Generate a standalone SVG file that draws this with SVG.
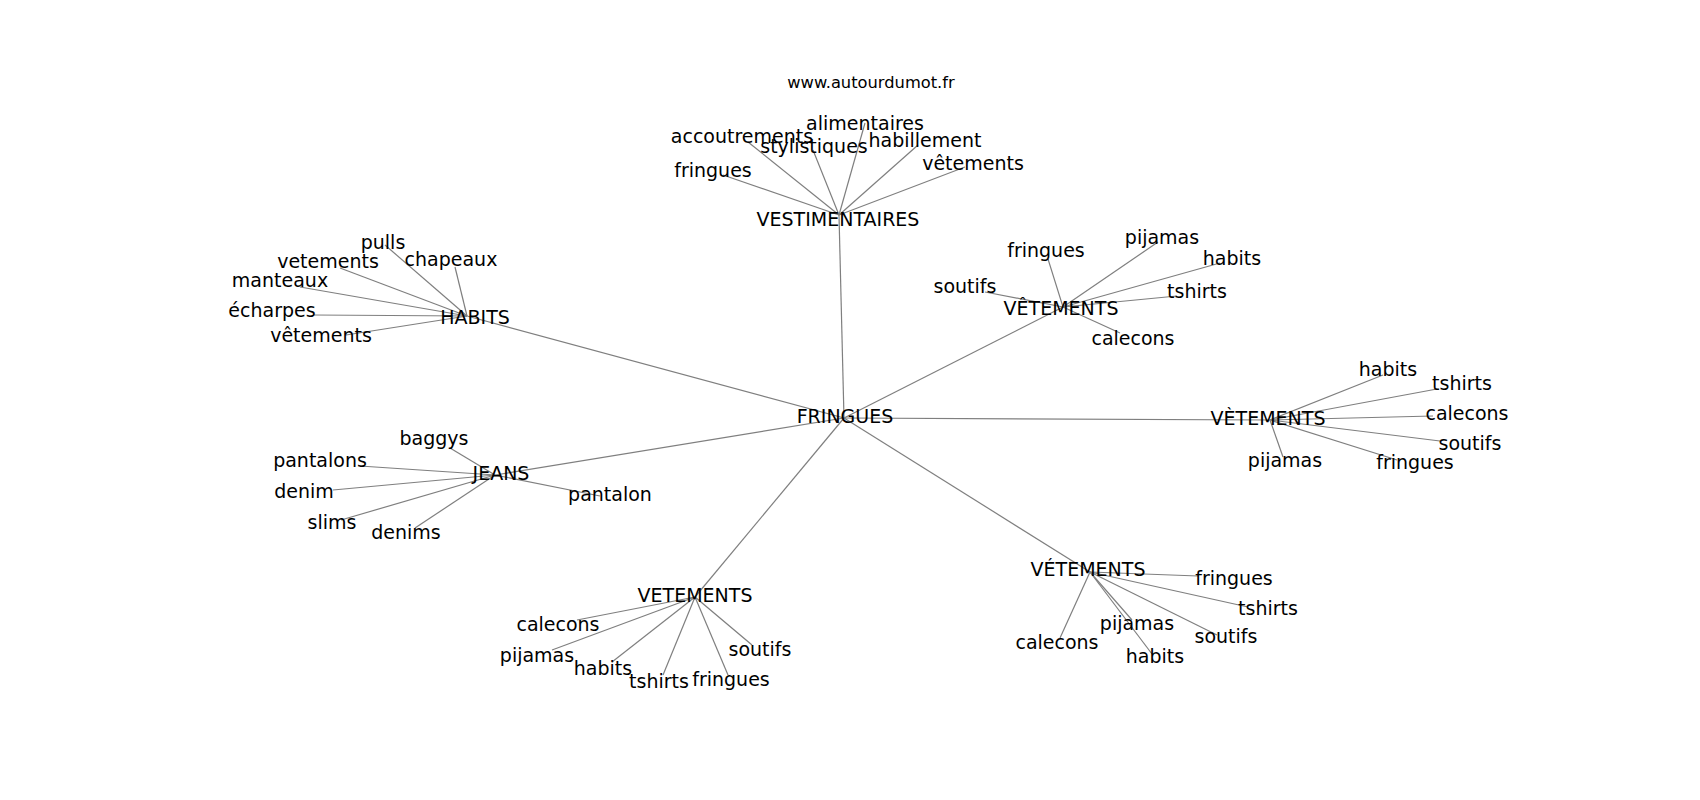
<svg xmlns="http://www.w3.org/2000/svg" width="1700" height="800" viewBox="0 0 1700 800">
<style>
text{font-family:"DejaVu Sans","Liberation Sans",sans-serif;font-size:19px;fill:#000;text-anchor:middle}
.title{font-size:16.3px}
#edges line{stroke:#7f7f7f;stroke-width:1.2;fill:none}
</style>
<rect width="1700" height="800" fill="#fff"/>
<g id="edges">
<line x1="844" y1="418" x2="839" y2="215"/>
<line x1="844" y1="418" x2="467" y2="316"/>
<line x1="844" y1="418" x2="1063" y2="307"/>
<line x1="844" y1="418" x2="1270" y2="420"/>
<line x1="844" y1="418" x2="495" y2="475"/>
<line x1="844" y1="418" x2="695" y2="597"/>
<line x1="844" y1="418" x2="1090" y2="572"/>
<line x1="839" y1="215" x2="748" y2="142"/>
<line x1="839" y1="215" x2="865" y2="123"/>
<line x1="839" y1="215" x2="813" y2="150"/>
<line x1="839" y1="215" x2="918" y2="145"/>
<line x1="839" y1="215" x2="965" y2="167"/>
<line x1="839" y1="215" x2="723" y2="175"/>
<line x1="467" y1="316" x2="385" y2="245"/>
<line x1="467" y1="316" x2="455" y2="267"/>
<line x1="467" y1="316" x2="340" y2="268"/>
<line x1="467" y1="316" x2="300" y2="287"/>
<line x1="467" y1="316" x2="313" y2="315"/>
<line x1="467" y1="316" x2="346" y2="335"/>
<line x1="1063" y1="307" x2="1048" y2="259"/>
<line x1="1063" y1="307" x2="985" y2="292"/>
<line x1="1063" y1="307" x2="1158" y2="242"/>
<line x1="1063" y1="307" x2="1220" y2="263"/>
<line x1="1063" y1="307" x2="1177" y2="296"/>
<line x1="1063" y1="307" x2="1120" y2="333"/>
<line x1="1270" y1="420" x2="1383" y2="375"/>
<line x1="1270" y1="420" x2="1437" y2="389"/>
<line x1="1270" y1="420" x2="1433" y2="416"/>
<line x1="1270" y1="420" x2="1440" y2="441"/>
<line x1="1270" y1="420" x2="1397" y2="460"/>
<line x1="1270" y1="420" x2="1283" y2="457"/>
<line x1="495" y1="475" x2="450" y2="448"/>
<line x1="495" y1="475" x2="360" y2="466"/>
<line x1="495" y1="475" x2="333" y2="490"/>
<line x1="495" y1="475" x2="600" y2="496"/>
<line x1="495" y1="475" x2="341" y2="520"/>
<line x1="495" y1="475" x2="415" y2="528"/>
<line x1="695" y1="597" x2="577" y2="620"/>
<line x1="695" y1="597" x2="552" y2="650"/>
<line x1="695" y1="597" x2="612" y2="662"/>
<line x1="695" y1="597" x2="663" y2="675"/>
<line x1="695" y1="597" x2="728" y2="675"/>
<line x1="695" y1="597" x2="752" y2="645"/>
<line x1="1090" y1="572" x2="1198" y2="576"/>
<line x1="1090" y1="572" x2="1248" y2="607"/>
<line x1="1090" y1="572" x2="1132" y2="620"/>
<line x1="1090" y1="572" x2="1217" y2="635"/>
<line x1="1090" y1="572" x2="1060" y2="638"/>
<line x1="1090" y1="572" x2="1152" y2="654"/>
</g>
<text class="title" x="871" y="88">www.autourdumot.fr</text>
<g id="n-fringues-hub"><text x="845" y="423">FRINGUES</text></g>
<g id="n-vestimentaires"><text x="838" y="226">VESTIMENTAIRES</text></g>
<g id="n-v1-accoutrements"><text x="742" y="143">accoutrements</text></g>
<g id="n-v1-alimentaires"><text x="865" y="130">alimentaires</text></g>
<g id="n-v1-stylistiques"><text x="814" y="153">stylistiques</text></g>
<g id="n-v1-habillement"><text x="925" y="147">habillement</text></g>
<g id="n-v1-vetements"><text x="973" y="170">vêtements</text></g>
<g id="n-v1-fringues"><text x="713" y="177">fringues</text></g>
<g id="n-habits"><text x="475" y="324">HABITS</text></g>
<g id="n-h-pulls"><text x="383" y="249">pulls</text></g>
<g id="n-h-chapeaux"><text x="451" y="266">chapeaux</text></g>
<g id="n-h-vetements"><text x="328" y="268">vetements</text></g>
<g id="n-h-manteaux"><text x="280" y="287">manteaux</text></g>
<g id="n-h-echarpes"><text x="272" y="317">écharpes</text></g>
<g id="n-h-vetements2"><text x="321" y="342">vêtements</text></g>
<g id="n-vetements-circ"><text x="1061" y="315">VÊTEMENTS</text></g>
<g id="n-c-fringues"><text x="1046" y="257">fringues</text></g>
<g id="n-c-soutifs"><text x="965" y="293">soutifs</text></g>
<g id="n-c-pijamas"><text x="1162" y="244">pijamas</text></g>
<g id="n-c-habits"><text x="1232" y="265">habits</text></g>
<g id="n-c-tshirts"><text x="1197" y="298">tshirts</text></g>
<g id="n-c-calecons"><text x="1133" y="345">calecons</text></g>
<g id="n-vetements-grave"><text x="1268" y="425">VÈTEMENTS</text></g>
<g id="n-g-habits"><text x="1388" y="376">habits</text></g>
<g id="n-g-tshirts"><text x="1462" y="390">tshirts</text></g>
<g id="n-g-calecons"><text x="1467" y="420">calecons</text></g>
<g id="n-g-soutifs"><text x="1470" y="450">soutifs</text></g>
<g id="n-g-fringues"><text x="1415" y="469">fringues</text></g>
<g id="n-g-pijamas"><text x="1285" y="467">pijamas</text></g>
<g id="n-jeans"><text x="501" y="480">JEANS</text></g>
<g id="n-j-baggys"><text x="434" y="445">baggys</text></g>
<g id="n-j-pantalons"><text x="320" y="467">pantalons</text></g>
<g id="n-j-denim"><text x="304" y="498">denim</text></g>
<g id="n-j-pantalon"><text x="610" y="501">pantalon</text></g>
<g id="n-j-slims"><text x="332" y="529">slims</text></g>
<g id="n-j-denims"><text x="406" y="539">denims</text></g>
<g id="n-vetements-plain"><text x="695" y="602">VETEMENTS</text></g>
<g id="n-p-calecons"><text x="558" y="631">calecons</text></g>
<g id="n-p-pijamas"><text x="537" y="662">pijamas</text></g>
<g id="n-p-habits"><text x="603" y="675">habits</text></g>
<g id="n-p-tshirts"><text x="659" y="688">tshirts</text></g>
<g id="n-p-fringues"><text x="731" y="686">fringues</text></g>
<g id="n-p-soutifs"><text x="760" y="656">soutifs</text></g>
<g id="n-vetements-acute"><text x="1088" y="576">VÉTEMENTS</text></g>
<g id="n-a-fringues"><text x="1234" y="585">fringues</text></g>
<g id="n-a-tshirts"><text x="1268" y="615">tshirts</text></g>
<g id="n-a-pijamas"><text x="1137" y="630">pijamas</text></g>
<g id="n-a-soutifs"><text x="1226" y="643">soutifs</text></g>
<g id="n-a-calecons"><text x="1057" y="649">calecons</text></g>
<g id="n-a-habits"><text x="1155" y="663">habits</text></g>
</svg>
